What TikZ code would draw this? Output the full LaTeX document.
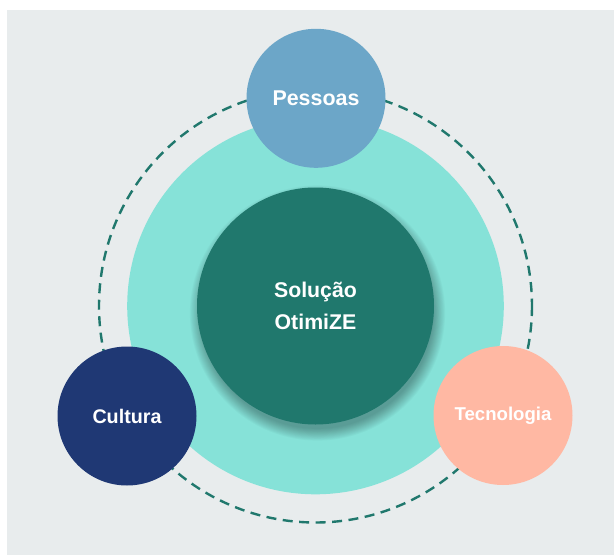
\documentclass[tikz,border=0pt]{standalone}
\usepackage{fontspec}
\setmainfont{Liberation Sans}
\definecolor{bgc}{HTML}{E8ECED}
\definecolor{ringc}{HTML}{86E2D8}
\definecolor{corec}{HTML}{20786D}
\definecolor{pessc}{HTML}{6CA6C8}
\definecolor{tecc}{HTML}{FFB8A3}
\definecolor{cultc}{HTML}{1F3874}
\begin{document}
\begin{tikzpicture}[x=1pt,y=-1pt,
  disc/.style={circle, inner sep=0pt, text=white, font=\bfseries, align=center},
  satellite/.style={disc, minimum size=139pt},
  orbit/.style={draw=corec, line width=2.4pt, dash pattern=on 10pt off 6.5pt},
  shadowlayer/.style={fill=black, opacity=0.025}]
\useasboundingbox (0,0) rectangle (614,555);
\fill[bgc] (7,10) rectangle (614,555);
\coordinate (c) at (315.5,306);
\coordinate (sh) at (317.5,313);
\draw[orbit] (c) circle[radius=216.5];
\node[disc, fill=ringc, minimum size=376.6pt] (ring) at (c) {};
\foreach \i in {1,...,14} \fill[shadowlayer] (sh) circle[radius=115+\i*0.9];
\node[disc, fill=corec, minimum size=237pt,
  font=\bfseries\fontsize{21.3}{32}\selectfont] (core) at (c) {Solução\\OtimiZE};
\node[satellite, fill=pessc, font=\bfseries\fontsize{21.4}{24}\selectfont] (pessoas) at (316,98.3) {Pessoas};
\node[satellite, fill=tecc, font=\bfseries\fontsize{18.6}{22}\selectfont] (tec) at (503,415.5) {Tecnologia};
\node[satellite, fill=cultc, font=\bfseries\fontsize{19.7}{22}\selectfont] (cult) at (127,416) {Cultura};
\end{tikzpicture}
\end{document}
